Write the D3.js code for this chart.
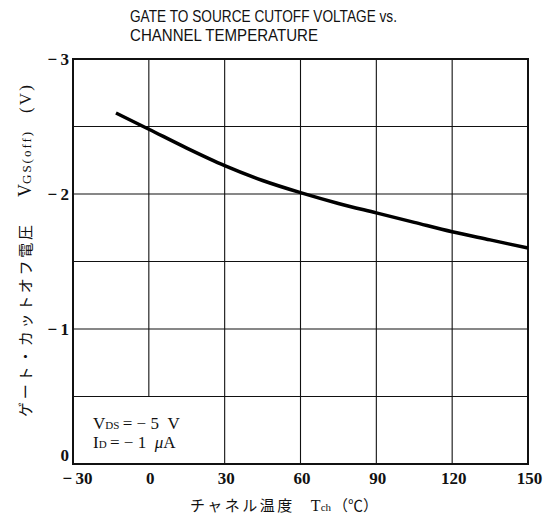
<!DOCTYPE html>
<html>
<head>
<meta charset="utf-8">
<script src="https://cdn.jsdelivr.net/npm/d3@7"></script>
<style>
  html, body { margin: 0; padding: 0; background: #fff; }
  svg { display: block; }
</style>
</head>
<body>
<svg id="chart" width="549" height="525"></svg>
<script>
// ---- data ----
const tempTicks = [-30, 0, 30, 60, 90, 120, 150];
const tempLabels = ["\u2212\u200930", "0", "30", "60", "90", "120", "150"];
const voltTicks = [0, -1, -2, -3];
const voltLabels = ["0", "\u2212\u20091", "\u2212\u20092", "\u2212\u20093"];
const voltGrid = [-0.5, -1, -1.5, -2, -2.5];
const curveTemp = [-13, 0, 15, 30, 45, 60, 75, 90, 105, 120, 135, 150];
const curveVolt = [-2.60, -2.48, -2.34, -2.21, -2.10, -2.01, -1.93, -1.86, -1.79, -1.72, -1.66, -1.60];
const titleLines = ["GATE TO SOURCE CUTOFF VOLTAGE vs.", "CHANNEL TEMPERATURE"];

const svg = d3.select("#chart");
const L = 73, R = 528, T = 59, B = 464;
const x = d3.scaleLinear().domain([-30, 150]).range([L, R]);
const y = d3.scaleLinear().domain([0, -3]).range([B, T]);

// title
const title = svg.append("text")
  .attr("font-family", "'Liberation Sans Narrow', 'Liberation Sans', Arial, sans-serif")
  .attr("font-size", 17).attr("fill", "#111");
title.append("tspan").attr("x", 130).attr("y", 22).text(titleLines[0])
  .attr("textLength", 267).attr("lengthAdjust", "spacingAndGlyphs");
title.append("tspan").attr("x", 130).attr("y", 41).text(titleLines[1])
  .attr("textLength", 188).attr("lengthAdjust", "spacingAndGlyphs");

// grid
const grid = svg.append("g").attr("stroke", "#111").attr("stroke-width", 1.1);
grid.selectAll("line.h").data(voltGrid).join("line")
  .attr("x1", L).attr("x2", R).attr("y1", d => y(d)).attr("y2", d => y(d));
grid.selectAll("line.v").data(tempTicks.slice(1, -1)).join("line")
  .attr("x1", d => x(d)).attr("x2", d => x(d))
  .attr("y1", T).attr("y2", d => d === 0 ? y(-0.5) : B);

// frame
svg.append("rect").attr("x", L).attr("y", T).attr("width", R - L).attr("height", B - T)
  .attr("fill", "none").attr("stroke", "#111").attr("stroke-width", 2);

// curve
const line = d3.line().curve(d3.curveMonotoneX).x(d => x(d[0])).y(d => y(d[1]));
svg.append("path").datum(curveTemp.map((t, i) => [t, curveVolt[i]]))
  .attr("d", line).attr("fill", "none").attr("stroke", "#000").attr("stroke-width", 3.5)
  .attr("stroke-linecap", "butt");

// axes
const xAxis = d3.axisBottom(x).tickValues(tempTicks).tickSize(0).tickPadding(8)
  .tickFormat((d, i) => tempLabels[i]);
const gx = svg.append("g").attr("transform", `translate(0,${B})`).call(xAxis);
gx.select(".domain").remove();
gx.selectAll("text").attr("font-family", "'Liberation Serif', 'Times New Roman', serif")
  .attr("font-size", 17).attr("font-weight", "bold").attr("fill", "#111")
  .attr("dx", (d, i) => i === 0 ? 4 : 1);

const yAxis = d3.axisLeft(y).tickValues(voltTicks).tickSize(0).tickPadding(4)
  .tickFormat((d, i) => voltLabels[i]);
const gy = svg.append("g").attr("transform", `translate(${L},0)`).call(yAxis);
gy.select(".domain").remove();
gy.selectAll("text").attr("font-family", "'Liberation Serif', 'Times New Roman', serif")
  .attr("font-size", 17).attr("font-weight", "bold").attr("fill", "#111")
  .attr("dy", d => d === 0 ? "-0.2em" : "0.32em");

// annotation
const ann = svg.append("g").attr("font-family", "'Liberation Serif', 'Times New Roman', serif")
  .attr("font-size", 17).attr("fill", "#111");
const a1 = ann.append("text").attr("x", 93).attr("y", 429);
a1.append("tspan").text("V");
a1.append("tspan").attr("font-size", 11).text("DS");
a1.append("tspan").text("\u2009= \u2212 5\u2002V");
const a2 = ann.append("text").attr("x", 93).attr("y", 448);
a2.append("tspan").text("I");
a2.append("tspan").attr("font-size", 11).text("D");
a2.append("tspan").text("\u2009= \u2212 1\u2002");
a2.append("tspan").attr("font-style", "italic").text("\u03bc");
a2.append("tspan").text("A");

// x label
const xl = svg.append("text").attr("x", 190).attr("y", 511)
  .attr("font-size", 16).attr("fill", "#111");
xl.append("tspan").attr("font-family", "'Noto Sans CJK JP', sans-serif").attr("font-size", 15)
  .attr("letter-spacing", 2.5).text("チャネル温度");
xl.append("tspan").attr("font-family", "'Liberation Serif', serif").attr("dx", 16).text("T");
xl.append("tspan").attr("font-family", "'Liberation Serif', serif").attr("font-size", 11).text("ch");
xl.append("tspan").attr("font-family", "'Noto Sans CJK JP', sans-serif").attr("font-size", 15)
  .attr("dx", 2).text("（℃）");

// y label (rotated): reads bottom to top, from y=417 up to y=85
const yl = svg.append("text").attr("transform", "translate(31,417) rotate(-90)")
  .attr("font-size", 16).attr("fill", "#111");
yl.append("tspan").attr("x", 0).attr("y", 0)
  .attr("font-family", "'Noto Sans CJK JP', sans-serif").attr("font-size", 15)
  .attr("textLength", 192).attr("lengthAdjust", "spacing").text("ゲート・カットオフ電圧");
yl.append("tspan").attr("x", 220).attr("y", 0)
  .attr("font-family", "'Liberation Serif', serif").attr("font-size", 18).text("V");
yl.append("tspan").attr("font-family", "'Liberation Serif', serif").attr("font-size", 13)
  .attr("letter-spacing", 2).text("GS(off)");
yl.append("tspan").attr("x", 304).attr("y", 0)
  .attr("font-family", "'Liberation Serif', serif").attr("font-size", 17)
  .attr("textLength", 28).attr("lengthAdjust", "spacing").text("(V)");
</script>
</body>
</html>
